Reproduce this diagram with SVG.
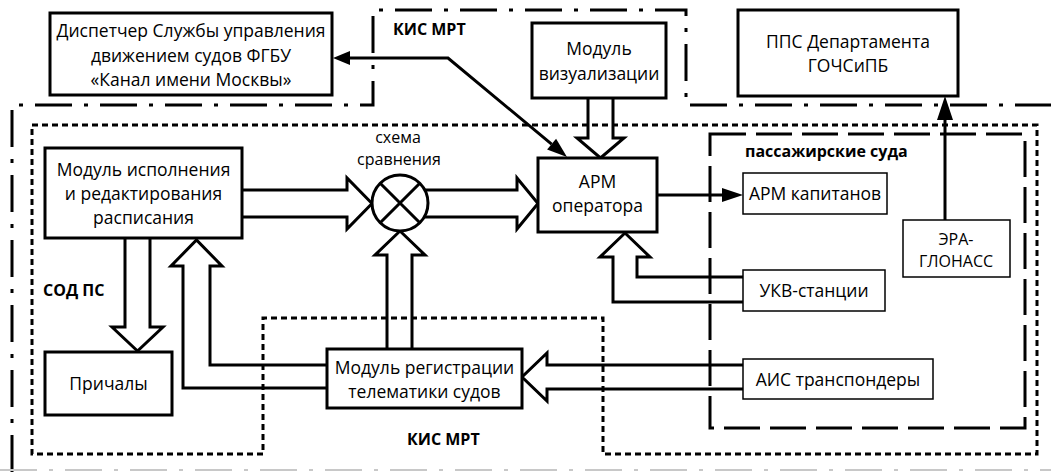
<svg xmlns="http://www.w3.org/2000/svg" width="1051" height="472" viewBox="0 0 1051 472">
<style>
text { font-family: "Open Sans", "Liberation Sans", sans-serif; font-size: 17.5px; fill: #000; text-anchor: middle; }
.b { font-weight: bold; font-size: 16px; text-anchor: start; }
.sm { font-size: 16px; }
.box { fill: #fff; stroke: #000; stroke-width: 3; }
.tbox { fill: #fff; stroke: #000; stroke-width: 1.5; }
.ln { fill: none; stroke: #000; stroke-width: 3; stroke-linejoin: miter; }
.head { fill: #000; stroke: none; }
.dashdot { fill: none; stroke: #000; stroke-width: 3; stroke-dasharray: 37 12 4 12; }
.dotted { fill: none; stroke: #000; stroke-width: 3; stroke-dasharray: 6 4; }
.dashed { fill: none; stroke: #000; stroke-width: 3; stroke-dasharray: 36 10; }
</style>
<rect width="1051" height="472" fill="#fff"/>
<g id="regions">
  <path class="dashdot" d="M12,472 V105 H373 V10 H686 V105 H1051"/>
  <path d="M0,470 H1051" fill="none" stroke="#c8c8c8" stroke-width="2" stroke-dasharray="37 12 4 12"/>
  <path class="dotted" d="M32,125 H1037 V454 H603 V318 H263 V454 H32 Z"/>
  <path class="dashed" d="M710,134 H1025 V428 H710 Z"/>
  <text class="b" x="393" y="35">КИС МРТ</text>
  <text class="b" x="407" y="445">КИС МРТ</text>
  <text class="b" x="43" y="296">СОД ПС</text>
  <text class="b" x="745" y="157">пассажирские суда</text>
</g>
<g id="connectors">
  <path class="ln" d="M350,58 H448 L551.6,144.2"/>
  <polygon class="head" points="333,58 350,51 350,65"/>
  <polygon class="head" points="567,157 547.1,149.6 556.1,138.8"/>
  <path class="ln" d="M657,195 H724"/>
  <polygon class="head" points="743,195 722,188 722,202"/>
  <path class="ln" d="M945,220 V117" stroke-width="3.5"/>
  <polygon class="head" points="945,96 937,120 953,120"/>
  <path class="ln" d="M242,190 H347 V178 L372,203.5 L347,229 V217 H242"/>
  <path class="ln" d="M425,190 H517 V178 L538,203.5 L517,229 V217 H425"/>
  <path class="ln" d="M387,348 V255 H375 L400,231 L425,255 H412 V348"/>
  <path class="ln" d="M588,98 V138 H577 L600.5,158 L624,138 H613 V98"/>
  <path class="ln" d="M125,238 V327 H112 L137.5,351 L163,327 H150 V238"/>
  <path class="ln" d="M327,388 H183 V266 H171 L196.5,240 L222,266 H210 V365 H327"/>
  <path class="ln" d="M743,302 H613 V257 H600 L625,233 L650,257 H637 V277 H743"/>
  <path class="ln" d="M743,365 H547 V353 L522,377 L547,401 V389 H743"/>
</g>
<g id="n-dispatcher">
  <rect class="box" x="50" y="13" width="282" height="82"/>
  <text x="191" y="37">Диспетчер Службы управления</text>
  <text x="191" y="62">движением судов ФГБУ</text>
  <text x="191" y="86">«Канал имени Москвы»</text>
</g>
<g id="n-viz">
  <rect class="box" x="532" y="23" width="134" height="75"/>
  <text x="599" y="55">Модуль</text>
  <text x="599" y="80">визуализации</text>
</g>
<g id="n-pps">
  <rect class="box" x="738" y="10" width="220" height="86"/>
  <text x="848" y="48">ППС Департамента</text>
  <text x="848" y="72">ГОЧСиПБ</text>
</g>
<g id="n-exec">
  <rect class="box" x="45" y="148" width="197" height="90"/>
  <text x="143.5" y="176">Модуль исполнения</text>
  <text x="143.5" y="200">и редактирования</text>
  <text x="143.5" y="224">расписания</text>
</g>
<g id="n-compare">
  <circle cx="400" cy="203" r="28" fill="#fff" stroke="#000" stroke-width="3"/>
  <path class="ln" d="M380.2,183.2 L419.8,222.8 M419.8,183.2 L380.2,222.8"/>
  <text class="sm" x="398" y="143">схема</text>
  <text class="sm" x="399" y="165">сравнения</text>
</g>
<g id="n-arm-op">
  <rect class="box" x="538" y="158" width="119" height="74"/>
  <text x="597.5" y="188">АРМ</text>
  <text x="597.5" y="212">оператора</text>
</g>
<g id="n-arm-cap">
  <rect class="tbox" x="743" y="173" width="144" height="41"/>
  <text x="815" y="200">АРМ капитанов</text>
</g>
<g id="n-era">
  <rect class="tbox" x="903" y="220" width="107" height="57"/>
  <text class="sm" x="956" y="245">ЭРА-</text>
  <text class="sm" x="956" y="267">ГЛОНАСС</text>
</g>
<g id="n-ukv">
  <rect class="tbox" x="743" y="270" width="142" height="41"/>
  <text x="814" y="297">УКВ-станции</text>
</g>
<g id="n-berths">
  <rect class="box" x="45" y="352" width="127" height="63"/>
  <text x="108.5" y="390">Причалы</text>
</g>
<g id="n-telem">
  <rect class="box" x="327" y="349" width="195" height="59"/>
  <text x="424.5" y="374">Модуль регистрации</text>
  <text x="424.5" y="398">телематики судов</text>
</g>
<g id="n-ais">
  <rect class="tbox" x="743" y="359" width="190" height="40"/>
  <text x="838" y="386">АИС транспондеры</text>
</g>
</svg>
